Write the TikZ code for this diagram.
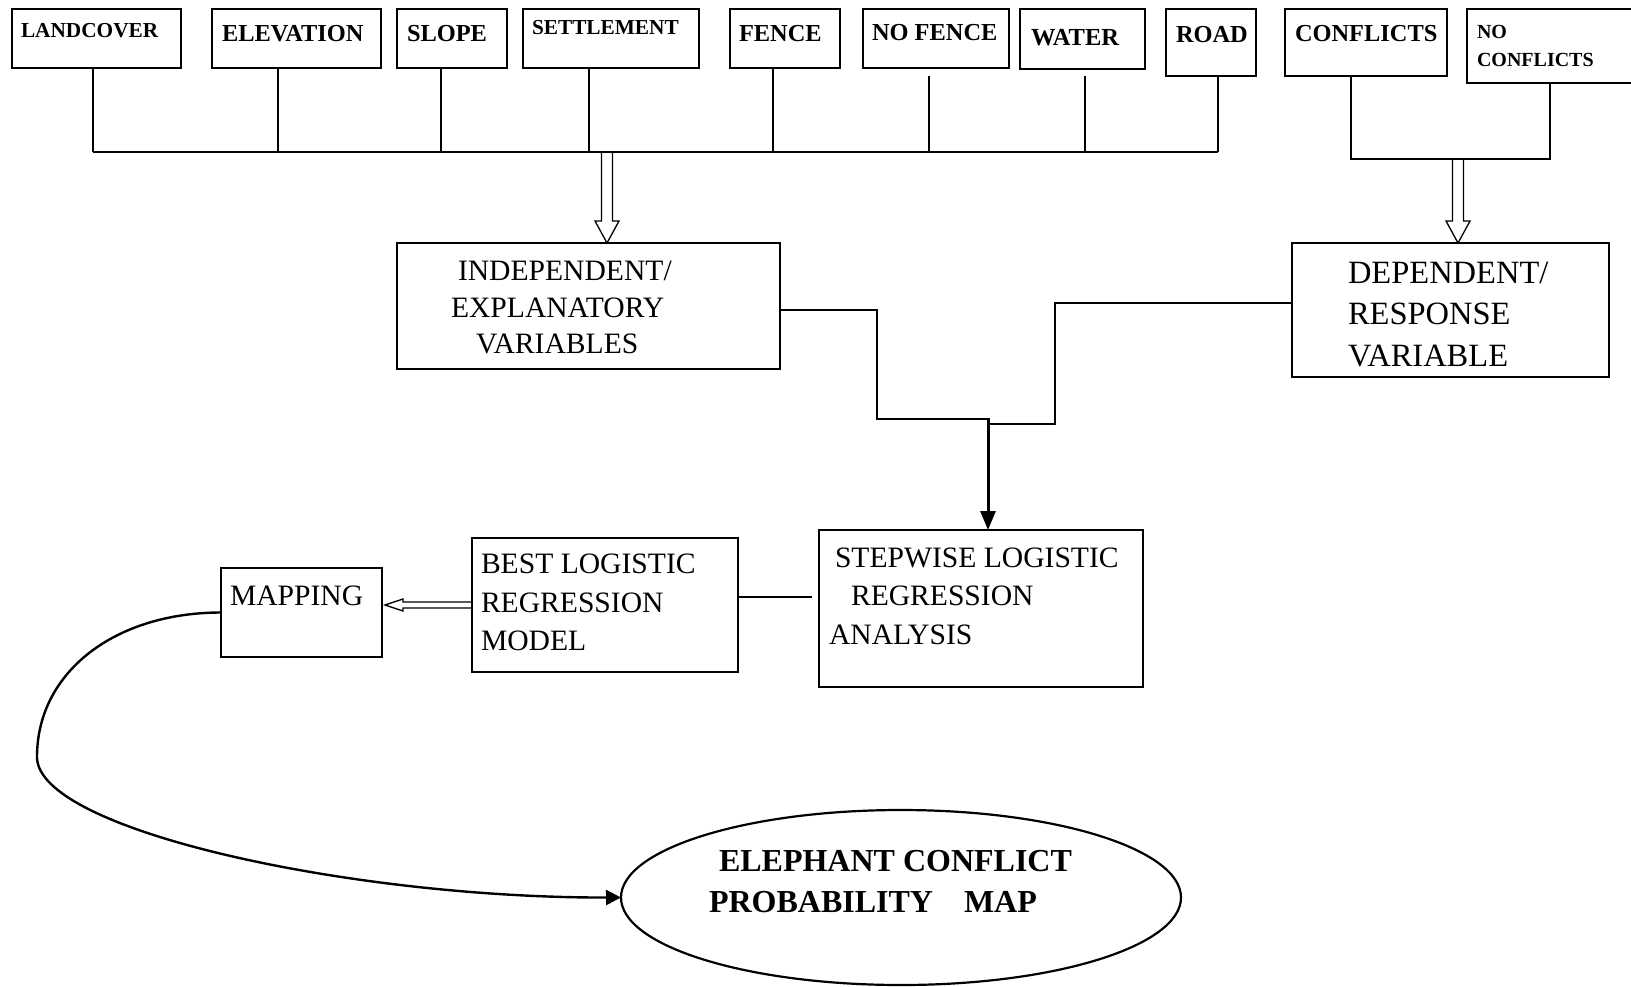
\documentclass[tikz,border=0pt]{standalone}
\usepackage{fontspec}
\setmainfont{Liberation Serif}
\usetikzlibrary{arrows.meta,calc,shapes.geometric}
\begin{document}
\begin{tikzpicture}[x=1pt,y=-1pt,
  box/.style={draw, line width=2.6pt, rectangle, inner sep=0pt, outer sep=0pt, anchor=north west},
  lab/.style={anchor=base west, inner sep=0pt, outer sep=0pt, font=\bfseries\fontsize{24.4}{28}\selectfont},
  labs/.style={lab, font=\bfseries\fontsize{21.3}{25}\selectfont},
  txt/.style={anchor=base west, inner sep=0pt, outer sep=0pt, font=\fontsize{29.6}{34}\selectfont},
  conn/.style={line width=1.8pt},
  hollow/.style={line width=1.3pt, line join=miter},
  curvearr/.style={line width=2.4pt, -{Triangle[width=15pt,length=15pt]}},
  downarr/.style={line width=3pt, -{Triangle[width=15pt,length=19pt]}}]
\clip (0,0) rectangle (1631,986);
\fill[white] (0,0) rectangle (1631,986);

% top row boxes
\node[box, minimum width=169, minimum height=59] (landcover) at (12,9) {};
\node[box, minimum width=169, minimum height=59] (elevation) at (212,9) {};
\node[box, minimum width=110, minimum height=59] (slope) at (397,9) {};
\node[box, minimum width=176, minimum height=59] (settlement) at (523,9) {};
\node[box, minimum width=110, minimum height=59] (fence) at (730,9) {};
\node[box, minimum width=146, minimum height=59] (nofence) at (863,9) {};
\node[box, minimum width=125, minimum height=60] (water) at (1020,9) {};
\node[box, minimum width=90, minimum height=67] (road) at (1166,9) {};
\node[box, minimum width=162, minimum height=67] (conflicts) at (1285,9) {};
\node[box, minimum width=200, minimum height=74] (noconf) at (1467,9) {};

\node[labs] (tlandcover) at (21,37) {LANDCOVER};
\node[lab] (televation) at (222,41) {ELEVATION};
\node[lab] (tslope) at (407,41) {SLOPE};
\node[labs] (tsettlement) at (532,34) {SETTLEMENT};
\node[lab] (tfence) at (739,41) {FENCE};
\node[lab] (tnofence) at (872,40) {NO FENCE};
\node[lab, font=\bfseries\fontsize{24.5}{28}\selectfont] (twater) at (1031,45) {WATER};
\node[lab] (troad) at (1176,42) {ROAD};
\node[lab] (tconflicts) at (1295,41) {CONFLICTS};
\node[lab, font=\bfseries\fontsize{20}{24}\selectfont] (tno) at (1477,38) {NO};
\node[lab, font=\bfseries\fontsize{20}{24}\selectfont] (tnoconf) at (1477,66) {CONFLICTS};

% bus coordinates
\coordinate (b1) at (93,152);
\coordinate (b2) at (278,152);
\coordinate (b3) at (441,152);
\coordinate (b4) at (589,152);
\coordinate (b5) at (773,152);
\coordinate (b6) at (929,152);
\coordinate (b7) at (1085,152);
\coordinate (b8) at (1218,152);
\coordinate (d1) at (607,152);
\coordinate (c1) at (1351,159);
\coordinate (c2) at (1550,159);
\coordinate (d2) at (1458,159);

\draw[conn] (landcover.south -| b1) -- (b1);
\draw[conn] (elevation.south -| b2) -- (b2);
\draw[conn] (slope.south -| b3) -- (b3);
\draw[conn] (settlement.south -| b4) -- (b4);
\draw[conn] (fence.south -| b5) -- (b5);
\draw[conn] ($(nofence.south -| b6)+(0,8)$) -- (b6);
\draw[conn] ($(water.south -| b7)+(0,7)$) -- (b7);
\draw[conn] (road.south -| b8) -- (b8);
\draw[conn] (b1) -- (b8);
\draw[conn] (conflicts.south -| c1) -- (c1) -- (c2) -- (noconf.south -| c2);

% middle boxes
\node[box, minimum width=383, minimum height=126] (indep) at (397,243) {};
\node[box, minimum width=317, minimum height=134] (dep) at (1292,243) {};
\node[box, minimum width=324, minimum height=157] (step) at (819,530) {};
\node[box, minimum width=266, minimum height=134] (best) at (472,538) {};
\node[box, minimum width=161, minimum height=89] (mapping) at (221,568) {};
\node[draw, ellipse, line width=2.2pt, inner sep=0pt, outer sep=0pt,
      minimum width=560, minimum height=175] (ecpm) at (901,897.5) {};

\node[txt] (ti1) at (458,280) {INDEPENDENT/};
\node[txt] (ti2) at (451,317) {EXPLANATORY};
\node[txt] (ti3) at (476,353) {VARIABLES};
\node[txt, font=\fontsize{32.5}{36}\selectfont] (td1) at (1348,283) {DEPENDENT/};
\node[txt, font=\fontsize{32.5}{36}\selectfont] (td2) at (1348,324) {RESPONSE};
\node[txt, font=\fontsize{32.5}{36}\selectfont] (td3) at (1348,366) {VARIABLE};
\node[txt] (ts1) at (835,567) {STEPWISE LOGISTIC};
\node[txt] (ts2) at (851,605) {REGRESSION};
\node[txt] (ts3) at (829,644) {ANALYSIS};
\node[txt] (tb1) at (481,573) {BEST LOGISTIC};
\node[txt] (tb2) at (481,612) {REGRESSION};
\node[txt] (tb3) at (481,650) {MODEL};
\node[txt] (tm1) at (230,605) {MAPPING};
\node[txt, font=\bfseries\fontsize{32}{36}\selectfont] (te1) at (719,871) {ELEPHANT CONFLICT};
\node[txt, font=\bfseries\fontsize{32}{36}\selectfont] (te2) at (709,912) {PROBABILITY\hspace{31pt}MAP};

% hollow double arrows
\coordinate (t1) at (d1 |- indep.north);
\draw[hollow] ($(d1)+(-5.5,1)$) -- ($(t1)+(-5.5,-22)$) -- ($(t1)+(-12,-22)$) -- (t1)
  -- ($(t1)+(12,-22)$) -- ($(t1)+(5.5,-22)$) -- ($(d1)+(5.5,1)$);
\coordinate (t2) at (d2 |- dep.north);
\draw[hollow] ($(d2)+(-5.5,1)$) -- ($(t2)+(-5.5,-22)$) -- ($(t2)+(-12,-22)$) -- (t2)
  -- ($(t2)+(12,-22)$) -- ($(t2)+(5.5,-22)$) -- ($(d2)+(5.5,1)$);
\coordinate (t3) at ($(mapping.east |- best.west)+(3,0)$);
\draw[hollow] ($(best.west)+(0,-3)$) -- ($(t3)+(18,-3)$) -- ($(t3)+(18,-6)$) -- (t3)
  -- ($(t3)+(18,6)$) -- ($(t3)+(18,3)$) -- ($(best.west)+(0,3)$);

% connectors to stepwise
\coordinate (j) at (988,419);
\draw[conn, line width=2.2pt] ($(indep.east)+(0,4)$) -| (877,419) -- (j);
\draw[conn, line width=2.2pt] ($(dep.west)+(0,-7)$) -| (1055,424) -- ($(j)+(0,5)$);
\draw[downarr] ($(j)+(0,-1)$) -- (j |- step.north);

% best - stepwise
\coordinate (gapend) at (812,597);
\draw[conn, line width=1.5pt] (best.east |- gapend) -- (gapend);

% curve mapping -> map
\draw[curvearr] (mapping.west) .. controls (115,612.5) and (37,672) .. (37,757)
  .. controls (37,830) and (350,898) .. (ecpm.west);
\end{tikzpicture}
\end{document}
